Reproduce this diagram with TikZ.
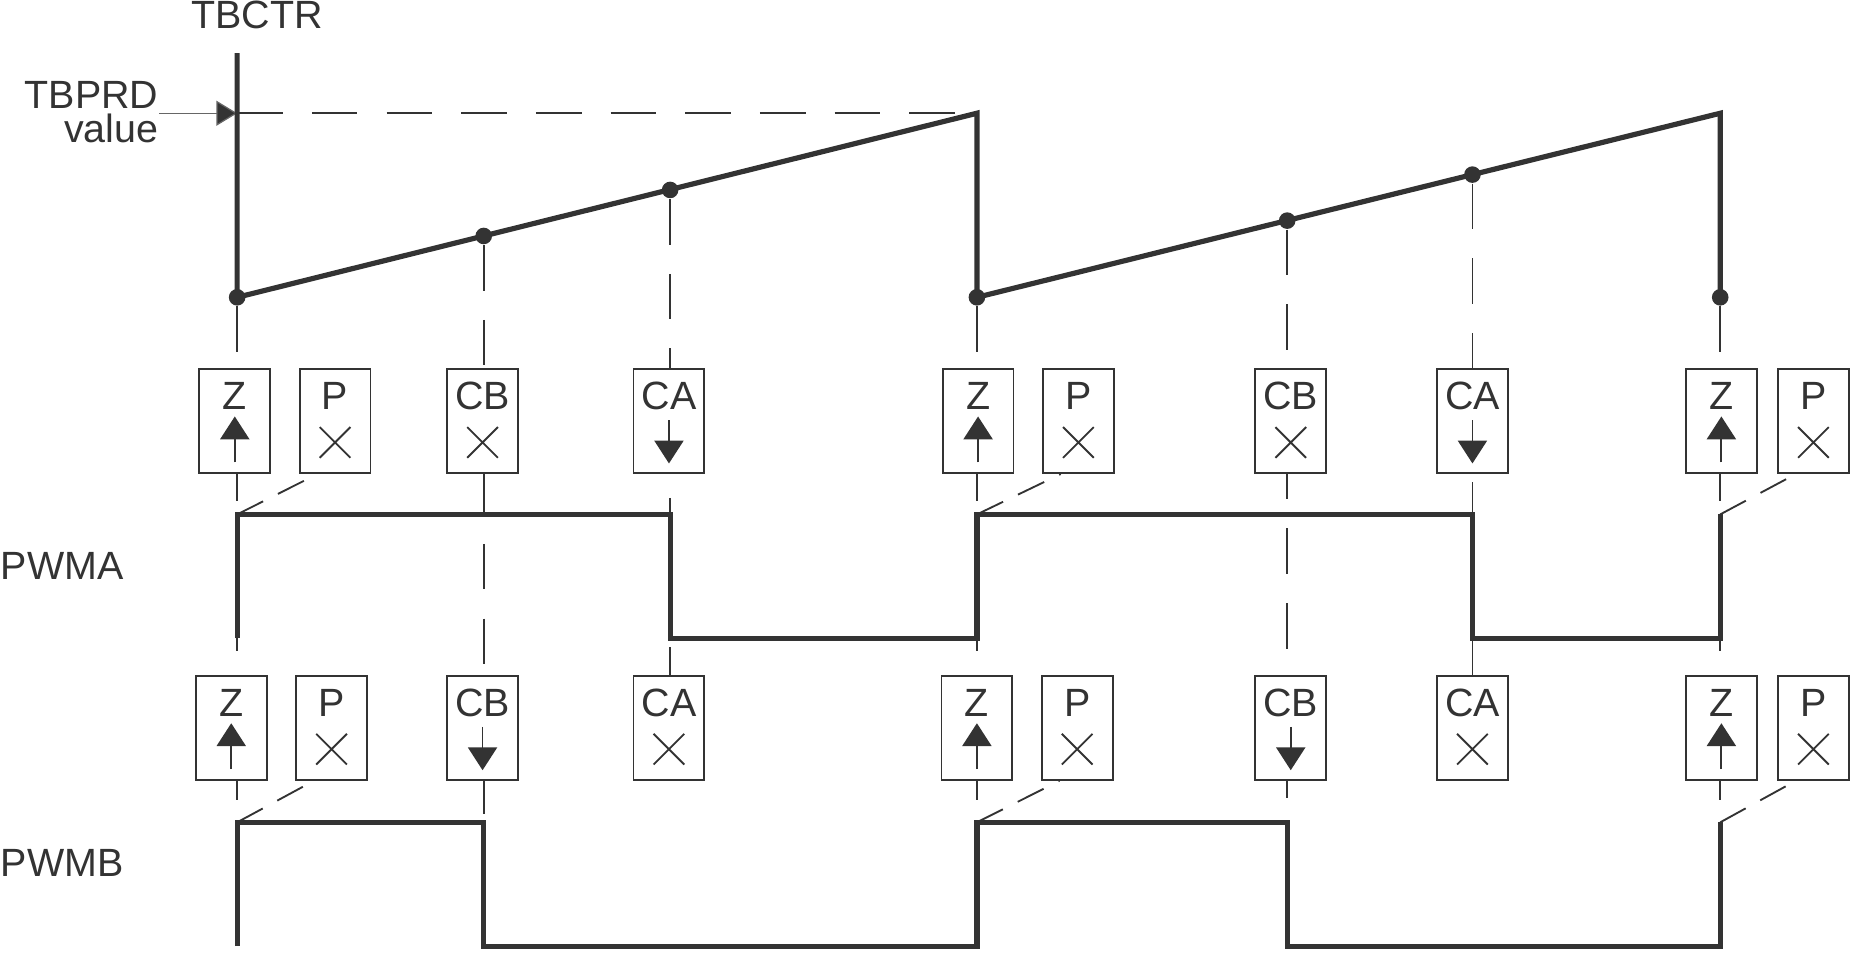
\documentclass[tikz,border=0pt]{standalone}
\usepackage{fontspec}
\setmainfont{Liberation Sans}
\usetikzlibrary{arrows.meta}

\begin{document}
\begin{tikzpicture}[x=0.01cm, y=-0.01cm,
  wave/.style={line width=1.25pt, black!80},
  guide/.style={line width=0.45pt, black!80, dash pattern=on 11pt off 7pt},
  slant/.style={line width=0.45pt, black!80, dash pattern=on 7pt off 4pt},
  evbox/.style={draw, black!80, fill=white, line width=0.45pt, minimum width=0.6cm, minimum height=0.88cm, inner sep=0pt},
  lettr/.style={font=\fontsize{9.5}{10}\selectfont, text=black!80, inner sep=0pt},
  sig/.style={font=\fontsize{9.5}{10}\selectfont, text=black!80},
  upact/.style={line width=0.45pt, black!80, -{Triangle[length=5.5pt, width=7pt]}},
  dot/.style={circle, fill=black!80, inner sep=0pt, minimum size=4pt}
]
\useasboundingbox (0,0) rectangle (1568,807);

% counter axis and labels
\node[sig] (tbctr) at (218,13) {TBCTR};
\coordinate (ax0) at (201,45);
\coordinate (prd) at (201,96);
\node[sig, align=right, anchor=east, inner sep=0pt] (tbprd) at (135,95) {TBPRD\\[-2pt]value};
\draw[line width=0.3pt, black!60, -{Triangle[length=5pt, width=6pt, fill=black!80]}] (tbprd.east |- prd) -- (prd);

% counter events
\node[dot] (z1) at (201,252) {};
\node[dot] (cb1) at (410,200) {};
\node[dot] (ca1) at (568,161) {};
\coordinate (pk1) at (828,96);
\node[dot] (z2) at (828,252) {};
\node[dot] (cb2) at (1091,187) {};
\node[dot] (ca2) at (1248,148) {};
\coordinate (pk2) at (1458,96);
\node[dot] (z3) at (1458,252) {};
\draw[guide] (prd) -- (pk1);

% guide lines down to the outputs
\draw[guide] (z1) -- (201,802);
\draw[guide] (cb1) -- (410,697);
\draw[guide] (ca1) -- (568,573);
\draw[guide] (z2) -- (828,802);
\draw[guide] (cb2) -- (1091,697);
\draw[guide] (ca2) -- (1248,573);
\draw[guide] (z3) -- (1458,697);

% counter waveform
\draw[wave] (ax0) -- (z1.center) -- (pk1) -- (z2.center) -- (pk2) -- (z3.center);

% action boxes
\foreach \nm/\x/\y/\t in {za1/199/357/Z, pa1/284/357/P, cba1/409/357/CB, caa1/567/357/CA,
    za2/829/357/Z, pa2/914/357/P, cba2/1094/357/CB, caa2/1248/357/CA, za3/1459/357/Z, pa3/1537/357/P,
    zb1/196/617/Z, pb1/281/617/P, cbb1/409/617/CB, cab1/567/617/CA,
    zb2/828/617/Z, pb2/913/617/P, cbb2/1094/617/CB, cab2/1248/617/CA, zb3/1459/617/Z, pb3/1537/617/P}{
  \node[evbox] (\nm) at (\x,\y) {};
  \node[lettr, anchor=north] at ([yshift=-0.11cm]\nm.north) {\t};
}
% set (up) actions
\foreach \nm in {za1, za2, za3, zb1, zb2, zb3}
  \draw[upact] ([yshift=0.1cm]\nm.south) -- ([yshift=0.04cm]\nm.center);
% clear (down) actions
\foreach \nm in {caa1, caa2, cbb1, cbb2}
  \draw[upact] ([yshift=0.01cm]\nm.center) -- ([yshift=0.09cm]\nm.south);
% no action
\foreach \nm in {pa1, pa2, pa3, cba1, cba2, pb1, pb2, pb3, cab1, cab2}
  \draw[line width=0.45pt, black!80] ([shift={(-0.13cm,-0.05cm)}]\nm.center) -- ([shift={(0.13cm,-0.31cm)}]\nm.center)
    ([shift={(-0.13cm,-0.31cm)}]\nm.center) -- ([shift={(0.13cm,-0.05cm)}]\nm.center);

% PWMA
\node[sig, anchor=west, inner sep=0pt] (pwma) at (0,480) {PWMA};
\coordinate (a0) at (201,541);
\coordinate (a1) at (201,436);
\coordinate (a2) at (828,436);
\coordinate (a3) at (1458,436);
\draw[wave] (a0) -- (a1) -- (568,436) -- (568,541) -- (828,541) -- (a2) -- (1248,436) -- (1248,541) -- (1458,541) -- (a3);
\draw[slant] (a1) -- ([xshift=-0.15cm]pa1.south);
\draw[slant] (a2) -- ([xshift=-0.15cm]pa2.south);
\draw[slant] (a3) -- ([xshift=-0.15cm]pa3.south);

% PWMB
\node[sig, anchor=west, inner sep=0pt] (pwmb) at (0,731) {PWMB};
\coordinate (b0) at (201,802);
\coordinate (b1) at (201,697);
\coordinate (b2) at (828,697);
\coordinate (b3) at (1458,697);
\draw[wave] (b0) -- (b1) -- (410,697) -- (410,802) -- (828,802) -- (b2) -- (1091,697) -- (1091,802) -- (1458,802) -- (b3);
\draw[slant] (b1) -- ([xshift=-0.15cm]pb1.south);
\draw[slant] (b2) -- ([xshift=-0.15cm]pb2.south);
\draw[slant] (b3) -- ([xshift=-0.15cm]pb3.south);
\end{tikzpicture}
\end{document}
